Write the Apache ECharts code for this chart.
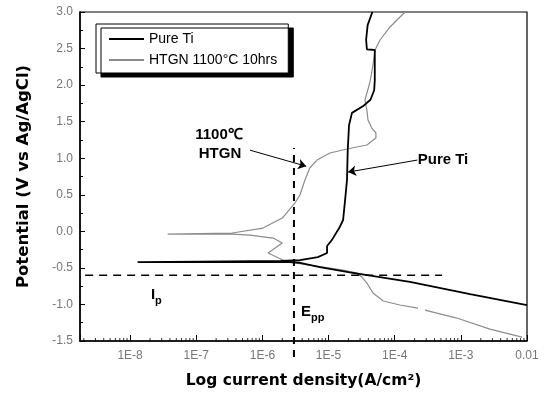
<!DOCTYPE html>
<html>
<head>
<meta charset="utf-8">
<script src="https://cdn.jsdelivr.net/npm/echarts@6/dist/echarts.min.js"></script>
<style>
html, body { margin: 0; padding: 0; background: #fff; }
#chart { width: 547px; height: 397px; }
</style>
</head>
<body>
<div id="chart"></div>
<script>
// Pure Ti: cathodic branch (from high current) down to the minimum, then anodic branch
const tiCurrent = [1.0e-2, 1.38e-3, 1.7e-4, 2.09e-5, 7.4e-6, 3.7e-6, 2.6e-6, 6.5e-7, 1.15e-7, 2.8e-8, 1.3e-8,
  1.15e-7, 1.9e-6, 3.7e-6, 6.9e-6, 9.5e-6, 9.5e-6, 1.12e-5, 1.48e-5, 1.66e-5, 1.78e-5, 1.9e-5, 1.95e-5,
  2.04e-5, 2.26e-5, 3.3e-5, 4.3e-5, 4.9e-5, 5.0e-5, 5.0e-5, 3.8e-5, 3.7e-5, 3.9e-5, 4.6e-5];
const tiPotential = [-1.01, -0.86, -0.69, -0.56, -0.49, -0.43, -0.42, -0.42, -0.42, -0.42, -0.42,
  -0.413, -0.406, -0.393, -0.352, -0.297, -0.20, -0.12, 0.06, 0.155, 0.43, 0.70, 1.11,
  1.45, 1.62, 1.71, 1.80, 1.93, 2.07, 2.48, 2.49, 2.62, 2.82, 3.0];

// HTGN 1100C 10hrs (null = break in the trace)
const htgnCurrent = [8.4e-3, 2.75e-3, 8.7e-4, 2.87e-4, null, 2.25e-4, 1.2e-4, 6.7e-5, 4.7e-5, 3.8e-5, 3.2e-5,
  2.7e-5, 1.66e-5, 8.3e-6, 5.2e-6, 3.1e-6, 2.36e-6, 1.22e-6, 2.0e-6, 1.45e-6, 6.5e-7, 3.5e-7, 3.7e-8,
  1.15e-7, 3.5e-7, 1.02e-6, 2.0e-6, 3.1e-6, 3.7e-6, 4.4e-6, 5.2e-6, 6.7e-6, 1.05e-5, 1.9e-5, 3.8e-5,
  5.2e-5, 5.2e-5, 4.5e-5, 3.95e-5, 3.8e-5, 3.55e-5, 4.2e-5, 4.7e-5, 5.05e-5, 6.0e-5, 8.5e-5, 1.29e-4, 1.45e-4];
const htgnPotential = [-1.446, -1.337, -1.186, -1.077, null, -1.05, -1.008, -0.953, -0.844, -0.707, -0.625,
  -0.57, -0.529, -0.488, -0.461, -0.433, -0.42, -0.297, -0.16, -0.092, -0.051, -0.037, -0.037,
  -0.03, -0.023, 0.045, 0.182, 0.387, 0.497, 0.702, 0.866, 0.975, 1.071, 1.126, 1.181,
  1.276, 1.345, 1.413, 1.523, 1.659, 1.796, 2.029, 2.275, 2.48, 2.617, 2.795, 2.959, 3.0];

// dashed guide lines (Ip and Epp)
const ipCurrent = [7.9e-10, 5.2e-4];
const ipPotential = [-0.6, -0.6];
const eppCurrent = [3.0e-6, 3.0e-6];
const eppPotential = [-1.72, 1.14];

// annotation arrows [start, end]
const arrowHtgnCurrent = [6.5e-7, 4.6e-6];
const arrowHtgnPotential = [1.11, 0.89];
const arrowTiCurrent = [2.2e-4, 1.97e-5];
const arrowTiPotential = [0.975, 0.81];

const xTickLabels = ['1E-8', '1E-7', '1E-6', '1E-5', '1E-4', '1E-3', '0.01'];
const xMin = 1.75e-9, xMax = 0.01;

function pairs(xs, ys) {
  return xs.map((x, i) => (x == null ? ['-', '-'] : [x, ys[i]]));
}

// log style minor ticks on the bottom axis
const minorTicks = [];
for (let n = -9; n <= -3; n++) {
  for (let k = 2; k <= 9; k++) {
    const v = k * Math.pow(10, n);
    if (v >= xMin && v <= xMax) minorTicks.push([v, -1.5]);
  }
}

const chart = echarts.init(document.getElementById('chart'));
const boldFont = 'bold 15px "Liberation Sans", Arial, sans-serif';
const subFont = 'bold 11px "Liberation Sans", Arial, sans-serif';

const option = {
  animation: false,
  grid: { left: 80, top: 12, right: 20, bottom: 56, show: true, borderColor: '#000', borderWidth: 1.2 },
  legend: {
    orient: 'vertical',
    left: 96, top: 24,
    padding: [8, 11, 6, 12],
    itemGap: 7,
    itemWidth: 35, itemHeight: 14,
    backgroundColor: '#fff',
    borderColor: '#000', borderWidth: 1,
    shadowColor: '#000', shadowBlur: 0, shadowOffsetX: 5, shadowOffsetY: 4,
    itemStyle: { opacity: 0 },
    textStyle: { fontSize: 14, fontFamily: '"Liberation Sans", Arial, sans-serif', color: '#000' },
    data: ['Pure Ti', 'HTGN 1100°C 10hrs']
  },
  xAxis: [{
    type: 'log',
    logBase: 10,
    min: xMin, max: xMax,
    splitNumber: 7,
    name: 'Log current density(A/cm²)',
    nameLocation: 'middle',
    nameGap: 32,
    nameTextStyle: { fontSize: 15.5, fontWeight: 'bold', fontFamily: '"DejaVu Sans", Verdana, sans-serif', color: '#000' },
    axisLine: { onZero: false, lineStyle: { color: '#000', width: 1.5 } },
    axisTick: { inside: true, length: 6, lineStyle: { color: '#000' } },
    axisLabel: {
      color: '#777', fontSize: 12, margin: 9,
      fontFamily: '"Liberation Sans", Arial, sans-serif',
      formatter: function (v) {
        const e = Math.log10(v);
        const r = Math.round(e);
        if (Math.abs(e - r) > 1e-6) return '';
        return xTickLabels[r + 8] || '';
      }
    },
    splitLine: { show: false }
  }, {
    // hidden linear twin of the log axis (log10 units), lets the Ip line run past the left edge
    type: 'value',
    min: Math.log10(xMin), max: Math.log10(xMax),
    show: false
  }],
  yAxis: {
    type: 'value',
    min: -1.5, max: 3.0, interval: 0.5,
    name: 'Potential (V vs Ag/AgCl)',
    nameLocation: 'middle',
    nameGap: 48,
    nameTextStyle: { fontSize: 16.5, fontWeight: 'bold', fontFamily: '"DejaVu Sans", Verdana, sans-serif', color: '#000' },
    axisLine: { onZero: false, lineStyle: { color: '#000', width: 1.5 } },
    axisTick: { inside: true, length: 5, lineStyle: { color: '#000' } },
    minorTick: { show: true, splitNumber: 2, length: 3, lineStyle: { color: '#000' } },
    axisLabel: {
      color: '#777', fontSize: 12, margin: 7,
      fontFamily: '"Liberation Sans", Arial, sans-serif',
      formatter: v => v.toFixed(1)
    },
    splitLine: { show: false }
  },
  series: [
    {
      name: 'HTGN 1100°C 10hrs',
      type: 'line',
      data: pairs(htgnCurrent, htgnPotential),
      showSymbol: false, symbol: 'none',
      connectNulls: false,
      lineStyle: { color: '#8c8c8c', width: 1.2 },
      itemStyle: { color: '#8c8c8c' }
    },
    {
      name: 'Pure Ti',
      type: 'line',
      data: pairs(tiCurrent, tiPotential),
      showSymbol: false, symbol: 'none',
      lineStyle: { color: '#000', width: 1.8 },
      itemStyle: { color: '#000' }
    },
    {
      name: 'Ip',
      type: 'line',
      xAxisIndex: 1,
      data: pairs(ipCurrent.map(Math.log10), ipPotential),
      symbol: 'none', clip: false, silent: true,
      lineStyle: { color: '#000', width: 1.5, type: [8, 6] }
    },
    {
      name: 'Epp',
      type: 'line',
      data: pairs(eppCurrent, eppPotential),
      symbol: 'none', clip: false, silent: true,
      lineStyle: { color: '#000', width: 2, type: [7, 6] },
      markLine: {
        silent: true,
        symbol: ['none', 'arrow'],
        symbolSize: 8,
        label: { show: false },
        lineStyle: { color: '#000', width: 1, type: 'solid' },
        data: [
          [{ coord: [arrowHtgnCurrent[0], arrowHtgnPotential[0]] }, { coord: [arrowHtgnCurrent[1], arrowHtgnPotential[1]] }],
          [{ coord: [arrowTiCurrent[0], arrowTiPotential[0]] }, { coord: [arrowTiCurrent[1], arrowTiPotential[1]] }]
        ]
      }
    },
    {
      name: 'minor',
      type: 'scatter',
      data: minorTicks,
      symbol: 'rect', symbolSize: [1, 3], symbolOffset: [0, -1.5],
      clip: false, silent: true,
      itemStyle: { color: '#000' }
    }
  ],
  graphic: [
    { type: 'text', x: 219, y: 135, style: { text: '1100℃', font: boldFont, fill: '#000', align: 'center', verticalAlign: 'middle' } },
    { type: 'text', x: 220, y: 154, style: { text: 'HTGN', font: boldFont, fill: '#000', align: 'center', verticalAlign: 'middle' } },
    { type: 'text', x: 443, y: 160, style: { text: 'Pure Ti', font: boldFont, fill: '#000', align: 'center', verticalAlign: 'middle' } },
    { type: 'text', x: 151, y: 295, style: { text: 'I', font: boldFont, fill: '#000', align: 'left', verticalAlign: 'middle' } },
    { type: 'text', x: 155, y: 301, style: { text: 'p', font: subFont, fill: '#000', align: 'left', verticalAlign: 'middle' } },
    { type: 'text', x: 301, y: 312, style: { text: 'E', font: boldFont, fill: '#000', align: 'left', verticalAlign: 'middle' } },
    { type: 'text', x: 311, y: 318, style: { text: 'pp', font: subFont, fill: '#000', align: 'left', verticalAlign: 'middle' } }
  ]
};

chart.setOption(option);
</script>
</body>
</html>
